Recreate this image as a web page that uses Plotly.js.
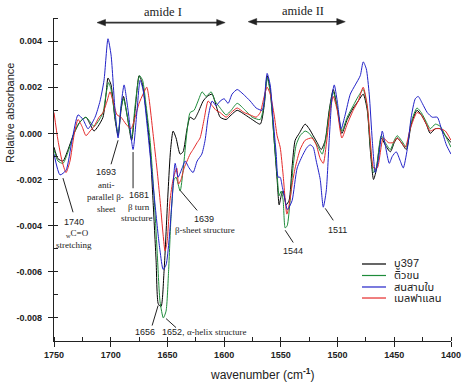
<!DOCTYPE html>
<html><head><meta charset="utf-8">
<script src="https://cdn.plot.ly/plotly-3.0.1.min.js"></script>
<style>html,body{margin:0;padding:0;background:#fff}#chart{width:471px;height:388px}</style>
</head><body><div id="chart"></div>
<script>
const seriesNames = ["บู397", "ติวขน", "สนสามใบ", "เมลฟาแลน"];
const seriesColors = ["#000000", "#1e8c3a", "#2222c8", "#e52a2a"];

const wnBlack = [1750,1746.5,1742.1,1737.6,1732.4,1727.1,1721.8,1718.2,1714.7,1711.2,1706.8,1704.1,1702.4,1699.7,1696.2,1693.5,1690.9,1688.7,1685.6,1681.6,1678.5,1675,1672.4,1668.8,1665.3,1662.7,1660,1658,1655.6,1653,1649.4,1647.2,1645,1642.4,1638.8,1636.2,1632.7,1630,1626.5,1623,1618.5,1615,1610.6,1607.1,1603.5,1598.2,1593.8,1588.5,1581.4,1575.3,1568.2,1564.7,1562.1,1559.4,1555.9,1553.3,1551.5,1549.7,1548,1545.3,1542.7,1540,1537.4,1533.8,1528.6,1525,1521.5,1518,1514.4,1510.9,1507.4,1503.8,1500.3,1496.2,1491.5,1486.2,1481.8,1477.4,1473.8,1471.2,1468.3,1465.9,1461.5,1458,1453.5,1450,1447.4,1443.8,1439.4,1435,1430,1426.2,1421.8,1418.3,1413.8,1409.4,1405,1400];
const absBlack = [-0.0006,-0.0011,-0.0012,-0.0007,0.0000,0.0005,0.0007,0.0004,0.0001,0.0003,0.0007,0.0017,0.0024,0.0021,0.0006,-0.0001,0.0010,0.0016,0.0008,-0.0003,0.0010,0.0025,0.0022,0.0010,-0.0007,-0.0029,-0.0055,-0.0074,-0.0075,-0.0060,-0.0025,-0.0007,0.0001,-0.0002,-0.0009,-0.0008,0.0002,0.0007,0.0006,0.0009,0.0014,0.0016,0.0017,0.0012,0.0007,0.0006,0.0008,0.0010,0.0008,0.0006,0.0004,0.0012,0.0025,0.0019,-0.0003,-0.0020,-0.0031,-0.0027,-0.0025,-0.0031,-0.0029,-0.0014,-0.0003,0.0000,0.0004,0.0002,-0.0001,-0.0004,-0.0007,-0.0003,0.0010,0.0019,0.0011,0.0000,0.0006,0.0011,0.0014,0.0017,0.0010,-0.0007,-0.0020,-0.0016,-0.0002,-0.0005,-0.0008,-0.0004,-0.0002,-0.0004,-0.0007,0.0004,0.0010,0.0008,0.0004,0.0000,0.0002,0.0002,-0.0001,-0.0004];

const wnGreen = [1750,1746.5,1742.1,1737.6,1732.4,1727.1,1721.8,1718.2,1714.7,1711.2,1706.8,1704.1,1701.9,1699.7,1696.2,1693.5,1690.9,1688.7,1685.6,1681.6,1678.5,1674.6,1671.9,1668.8,1665.3,1661.8,1659.1,1656.5,1653.6,1651.2,1649,1646.8,1644.1,1642.4,1638.8,1636.2,1632.7,1630,1626.5,1623,1619.4,1615.9,1611.5,1608,1603.5,1598.2,1593.8,1588.5,1581.4,1575.3,1568.2,1564.7,1562.1,1559.4,1555.9,1553.3,1551.5,1549.7,1548,1546.2,1544.4,1541.8,1539.1,1536.5,1533,1528.6,1525,1520.6,1517.1,1513.5,1510,1506.5,1503.8,1500.3,1496.2,1491.5,1486.2,1481.8,1477.4,1473.8,1471.2,1468.3,1465.9,1461.5,1458,1453.5,1450,1447.4,1443.8,1439.4,1435,1430,1426.2,1421.8,1418.3,1413.8,1409.4,1405,1400];
const absGreen = [-0.0007,-0.0012,-0.0013,-0.0008,0.0000,0.0005,0.0007,0.0005,0.0003,0.0005,0.0009,0.0017,0.0022,0.0019,0.0007,0.0000,0.0011,0.0015,0.0008,-0.0002,0.0012,0.0025,0.0023,0.0012,-0.0003,-0.0027,-0.0051,-0.0073,-0.0080,-0.0077,-0.0060,-0.0036,-0.0020,-0.0019,-0.0025,-0.0016,0.0001,0.0009,0.0010,0.0014,0.0018,0.0016,0.0018,0.0014,0.0011,0.0008,0.0010,0.0013,0.0010,0.0007,0.0006,0.0013,0.0024,0.0018,-0.0003,-0.0018,-0.0027,-0.0025,-0.0029,-0.0041,-0.0040,-0.0029,-0.0014,-0.0005,-0.0001,0.0001,0.0000,-0.0003,-0.0006,-0.0009,-0.0001,0.0012,0.0018,0.0011,0.0001,0.0007,0.0012,0.0016,0.0019,0.0011,-0.0005,-0.0017,-0.0015,-0.0001,-0.0004,-0.0007,-0.0003,-0.0001,-0.0003,-0.0006,0.0005,0.0011,0.0009,0.0005,0.0002,0.0004,0.0003,-0.0001,-0.0006];

const wnBlue = [1750,1744.7,1739.4,1734.1,1728.8,1724.4,1720,1713.8,1709.4,1705.9,1702.4,1699.7,1696.2,1693.5,1690.9,1688.2,1684.7,1680.3,1676.8,1674.1,1671.5,1668,1662.7,1658.2,1656.5,1653.8,1651.2,1648.5,1645.9,1643.2,1640.6,1637,1634.4,1630.9,1627.4,1623.8,1619.7,1616.8,1614.1,1610.6,1607.1,1603.5,1600,1596.5,1593,1588.5,1583.2,1577,1571.8,1566.5,1564.7,1562.1,1559.4,1556.8,1554.1,1552.4,1550.6,1548.8,1546.2,1544.4,1542.7,1540,1535.6,1530.3,1526.8,1524.1,1521.5,1518.8,1515.3,1512.6,1510,1507.4,1504.7,1502.9,1500.3,1496.8,1493.3,1488.8,1484.4,1480,1477.4,1474.7,1472.1,1469.4,1466.8,1464.2,1460.6,1458,1454.4,1451.8,1448.3,1444.7,1442.1,1438.6,1435.1,1431.5,1428.9,1425.3,1420.9,1416.5,1412.1,1408.5,1404.1,1400];
const absBlue = [-0.0009,-0.0018,-0.0016,-0.0003,0.0008,0.0006,0.0002,0.0007,0.0014,0.0023,0.0041,0.0034,0.0010,-0.0002,0.0012,0.0021,0.0010,-0.0007,0.0010,0.0023,0.0019,0.0004,-0.0022,-0.0044,-0.0051,-0.0059,-0.0057,-0.0046,-0.0029,-0.0013,-0.0019,-0.0015,-0.0012,-0.0015,-0.0017,-0.0012,-0.0009,-0.0003,0.0007,0.0014,0.0012,0.0014,0.0015,0.0013,0.0017,0.0019,0.0017,0.0014,0.0011,0.0010,0.0014,0.0026,0.0021,0.0006,-0.0009,-0.0019,-0.0019,-0.0023,-0.0029,-0.0033,-0.0032,-0.0029,-0.0015,-0.0009,-0.0006,-0.0005,-0.0006,-0.0012,-0.0020,-0.0032,-0.0025,-0.0003,0.0017,0.0021,0.0014,0.0002,0.0008,0.0017,0.0021,0.0025,0.0031,0.0028,0.0017,-0.0003,-0.0017,-0.0012,0.0001,-0.0005,-0.0013,-0.0010,-0.0008,-0.0012,-0.0015,-0.0007,0.0007,0.0015,0.0016,0.0013,0.0009,0.0007,0.0007,0.0002,-0.0005,-0.0009];

const wnRed = [1750,1746.5,1742.9,1739.4,1735.9,1732.4,1728.8,1725.3,1721.8,1718.2,1714.7,1710.3,1706.8,1703.2,1700.6,1698,1694.4,1690.9,1686.5,1682.1,1678.5,1675,1671.5,1668.2,1666.2,1662.7,1659.1,1656.5,1653.8,1652.1,1650.3,1647.7,1645,1641.8,1640.2,1638,1635.3,1632.7,1630,1627.4,1623.8,1621.2,1617.7,1614.1,1610.6,1607.1,1603.5,1598.2,1593.8,1588.5,1582.4,1577,1571.8,1568.2,1564.7,1562.1,1559.4,1555.9,1553.3,1550.6,1548,1544.7,1542.7,1540,1537.4,1533,1528.6,1522.6,1518.8,1515.3,1512.6,1510,1506.5,1503.8,1500.3,1496.2,1491.5,1486.2,1481.8,1477.4,1473.8,1471.2,1468.3,1465,1459.7,1455.3,1450.9,1447.4,1443.8,1440.3,1435.9,1430,1426.2,1421.8,1418.3,1413.8,1409.4,1405,1400];
const absRed = [0.0009,-0.0003,-0.0012,-0.0017,-0.0012,-0.0001,0.0006,0.0003,-0.0001,0.0001,0.0003,0.0007,0.0009,0.0014,0.0018,0.0014,0.0008,0.0007,0.0004,0.0002,0.0007,0.0013,0.0017,0.0020,0.0015,0.0000,-0.0016,-0.0029,-0.0044,-0.0051,-0.0047,-0.0029,-0.0020,-0.0015,-0.0022,-0.0020,-0.0015,-0.0012,-0.0009,-0.0007,-0.0004,-0.0002,0.0006,0.0014,0.0012,0.0010,0.0009,0.0007,0.0009,0.0011,0.0009,0.0008,0.0007,0.0009,0.0016,0.0020,0.0017,0.0008,-0.0001,-0.0006,-0.0018,-0.0035,-0.0031,-0.0022,-0.0015,-0.0007,-0.0003,-0.0002,-0.0005,-0.0011,-0.0013,-0.0005,0.0010,0.0016,0.0010,-0.0002,0.0004,0.0010,0.0014,0.0020,0.0012,-0.0003,-0.0015,-0.0015,-0.0002,-0.0004,-0.0004,-0.0002,-0.0004,-0.0006,0.0002,0.0009,0.0008,0.0004,0.0001,0.0002,0.0002,0.0001,-0.0003];

const xTickVals = [1750,1700,1650,1600,1550,1500,1450,1400];
const xTickText = ["1750","1700","1650","1600","1550","1500","1450","1400"];
const yTickVals = [0.004,0.002,0,-0.002,-0.004,-0.006,-0.008];
const yTickText = ["0.004","0.002","0.000","-0.002","-0.004","-0.006","-0.008"];

const xs = [wnBlack, wnGreen, wnBlue, wnRed];
const ys = [absBlack, absGreen, absBlue, absRed];
const drawOrder = [0, 1, 3, 2];

const traces = drawOrder.map(i => ({
  type: 'scatter', mode: 'lines', x: xs[i], y: ys[i], name: seriesNames[i],
  line: {color: seriesColors[i], width: 1, shape: 'spline', smoothing: 0.6},
  showlegend: false, hoverinfo: 'skip'
}));

const SANS = 'Arial, "Liberation Sans", Helvetica, sans-serif';
const SERIF = '"Times New Roman", "Liberation Serif", serif';
const THAI = 'Arial, "Liberation Sans", "Noto Sans Thai", "Noto Sans", sans-serif';

function txt(x, y, text, font, opts) {
  return Object.assign({xref: 'x', yref: 'y', x: x, y: y, text: text, showarrow: false,
    font: {family: font, size: 9, color: '#222'}, xanchor: 'center', yanchor: 'middle'}, opts || {});
}
function ln(x0, y0, x1, y1) {
  return {type: 'line', xref: 'x', yref: 'y', x0: x0, y0: y0, x1: x1, y1: y1,
    line: {color: '#222', width: 1}};
}
// double-headed arrow built from a line and two filled heads (data coords)
function dblArrow(xa, xb, y) {
  const hl = 7.5, hh = 0.00014;
  return [
    {type: 'line', xref: 'x', yref: 'y', x0: xa - hl * 0.5, x1: xb + hl * 0.5, y0: y, y1: y,
      line: {color: '#333', width: 1.6}},
    {type: 'path', xref: 'x', yref: 'y',
      path: `M ${xa} ${y} L ${xa - hl} ${y + hh} L ${xa - hl} ${y - hh} Z`,
      fillcolor: '#222', line: {color: '#222', width: 0.5}},
    {type: 'path', xref: 'x', yref: 'y',
      path: `M ${xb} ${y} L ${xb + hl} ${y + hh} L ${xb + hl} ${y - hh} Z`,
      fillcolor: '#222', line: {color: '#222', width: 0.5}}
  ];
}

const annotations = [
  txt(1704.1, -0.00168, '1693', SANS),
  txt(1704.1, -0.00225, 'anti-', SERIF),
  txt(1705.0, -0.00277, 'parallel β-', SERIF),
  txt(1704.1, -0.00330, 'sheet', SERIF),
  txt(1675.0, -0.00268, '1681', SANS),
  txt(1675.0, -0.00320, 'β turn', SERIF),
  txt(1676.8, -0.00368, 'structure', SERIF),
  txt(1732.4, -0.00386, '1740', SANS),
  txt(1729.7, -0.00434, '<sub>w</sub>C=O', SERIF),
  txt(1732.4, -0.00482, 'stretching', SERIF),
  txt(1617.6, -0.00370, '1639', SANS),
  txt(1616.8, -0.00417, 'β-sheet structure', SERIF),
  txt(1669.7, -0.00860, '1656', SANS),
  txt(1656.5, -0.00860, '1652, <span style="font-family:Liberation Serif">α-helix structure</span>', SANS, {xanchor: 'left'}),
  txt(1539.1, -0.00512, '1544', SANS),
  txt(1500.3, -0.00420, '1511', SANS),
  {xref: 'paper', yref: 'paper', x: 0.2746, y: 1.0195, text: 'amide I', showarrow: false,
    font: {family: SERIF, size: 12.5, color: '#222'}, xanchor: 'center', yanchor: 'middle'},
  {xref: 'paper', yref: 'paper', x: 0.627, y: 1.0215, text: 'amide II', showarrow: false,
    font: {family: SERIF, size: 12.5, color: '#222'}, xanchor: 'center', yanchor: 'middle'},
  {xref: 'paper', yref: 'paper', x: -0.111, y: 0.706, text: 'Relative absorbance', showarrow: false,
    textangle: -90, font: {family: SANS, size: 11, color: '#222'}, xanchor: 'center', yanchor: 'middle'},
  {xref: 'paper', yref: 'paper', x: 0.5227, y: -0.102, text: 'wavenumber (cm<sup><b>-1</b></sup>)', showarrow: false,
    font: {family: SANS, size: 12, color: '#222'}, xanchor: 'center', yanchor: 'middle'}
];

const shapes = [
  ln(1742.1, -0.00194, 1733.2, -0.00342),
  ln(1693.5, -0.00030, 1699.7, -0.00134),
  ln(1680.3, -0.00081, 1680.3, -0.00238),
  ln(1638.8, -0.00247, 1623.8, -0.00334),
  ln(1658.2, -0.00746, 1663.5, -0.00833),
  ln(1651.2, -0.00803, 1642.4, -0.00842),
  ln(1546.2, -0.00420, 1539.1, -0.00473),
  ln(1510.9, -0.00325, 1503.8, -0.00377)
].concat(dblArrow(1712.1, 1599.1, 0.0048), dblArrow(1578.8, 1493.2, 0.00484));

const legendRowsY = [0.2384, 0.2028, 0.1672, 0.1331];
seriesNames.forEach((name, i) => {
  shapes.push({type: 'line', xref: 'paper', yref: 'paper', x0: 0.7758, x1: 0.8363,
    y0: legendRowsY[i], y1: legendRowsY[i], line: {color: seriesColors[i], width: 1.2}});
  annotations.push({xref: 'paper', yref: 'paper', x: 0.8514, y: legendRowsY[i], text: name,
    showarrow: false, xanchor: 'left', yanchor: 'middle', font: {family: THAI, size: 11, color: '#222'}});
});

const layout = {
  width: 471, height: 388,
  margin: {l: 54, r: 20, t: 18, b: 47, pad: 0},
  paper_bgcolor: '#fff', plot_bgcolor: '#fff',
  showlegend: false,
  xaxis: {
    range: [1750, 1400], autorange: false,
    tickvals: xTickVals, ticktext: xTickText,
    ticks: 'outside', ticklen: 5, tickwidth: 1, tickcolor: '#222',
    minor: {dtick: 25, tick0: 1400, ticks: 'inside', ticklen: 4, tickcolor: '#222', showgrid: false},
    showline: true, linecolor: '#222', linewidth: 1.2,
    showgrid: false, zeroline: false,
    tickfont: {family: SANS, size: 9, color: '#222', weight: 'bold'},
    mirror: false
  },
  yaxis: {
    range: [-0.009, 0.005], autorange: false,
    tickvals: yTickVals, ticktext: yTickText,
    ticks: 'outside', ticklen: 5, tickwidth: 1, tickcolor: '#222',
    minor: {dtick: 0.001, tick0: 0, ticks: 'inside', ticklen: 4, tickcolor: '#222', showgrid: false},
    showline: true, linecolor: '#222', linewidth: 1.2,
    showgrid: false, zeroline: false,
    tickfont: {family: SANS, size: 9, color: '#222', weight: 'bold'},
    ticklabelstandoff: 4
  },
  annotations: annotations,
  shapes: shapes
};

Plotly.newPlot('chart', traces, layout, {staticPlot: true, displayModeBar: false});
</script>
</body></html>
